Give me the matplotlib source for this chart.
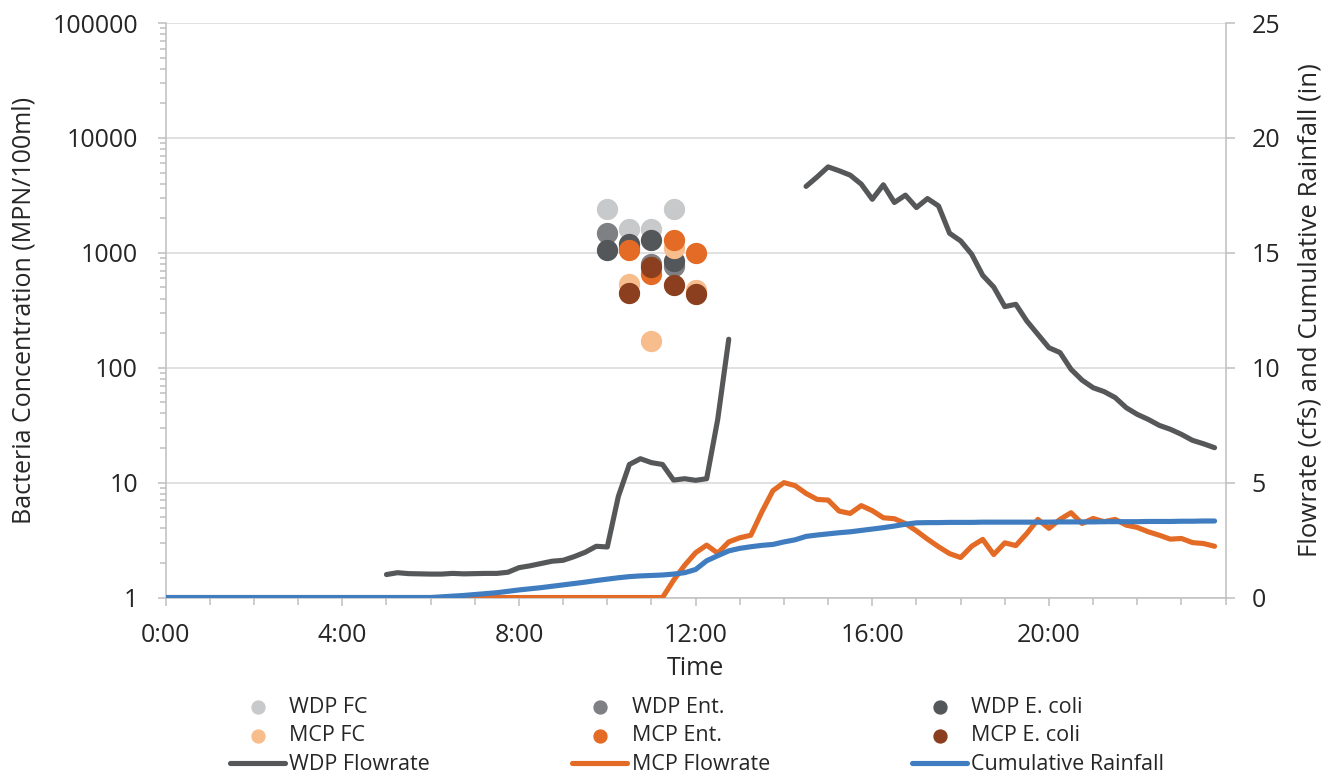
import numpy as np
import matplotlib
matplotlib.use('Agg')
import matplotlib.pyplot as plt
from matplotlib.ticker import FixedLocator, LogLocator, NullFormatter, FuncFormatter, MultipleLocator

plt.rcParams['font.family'] = 'Open Sans'

nan = np.nan

# flow / rain readings every 15 minutes, time in hours from midnight
hours = np.arange(0, 24, 0.25)

# WDP flowrate (cfs): 5:00-12:45, then gap, 14:30-23:45
wdp_flow_am = [1.00, 1.08, 1.04, 1.03, 1.02, 1.02, 1.05, 1.03,
               1.04, 1.05, 1.05, 1.10, 1.30, 1.38, 1.48, 1.58,
               1.62, 1.78, 1.97, 2.23, 2.20, 4.40, 5.79, 6.04,
               5.87, 5.79, 5.11, 5.17, 5.10, 5.17, 7.75, 11.24]
wdp_flow_pm = [17.89, 18.30, 18.74, 18.57, 18.38, 17.99, 17.33, 17.96,
               17.19, 17.51, 16.97, 17.36, 17.04, 15.85, 15.52, 14.94,
               14.02, 13.51, 12.66, 12.76, 12.03, 11.45, 10.87, 10.66,
               9.93, 9.46, 9.13, 8.96, 8.70, 8.26, 7.97, 7.75,
               7.49, 7.32, 7.10, 6.84, 6.69, 6.52]

# MCP flowrate (cfs), 0:00-23:45
mcp_flow = [0, 0, 0, 0, 0, 0, 0, 0, 0, 0, 0, 0,
            0, 0, 0, 0, 0, 0, 0, 0, 0, 0, 0, 0,
            0, 0, 0, 0, 0, 0, 0, 0, 0, 0, 0, 0,
            0, 0, 0, 0, 0, 0, 0, 0, 0, 0, 0.75, 1.40,
            1.95, 2.28, 1.93, 2.42, 2.60, 2.71, 3.73, 4.65,
            5.00, 4.87, 4.53, 4.27, 4.24, 3.76, 3.66, 4.00,
            3.78, 3.47, 3.43, 3.22, 2.90, 2.54, 2.21, 1.91,
            1.74, 2.23, 2.53, 1.87, 2.38, 2.26, 2.79, 3.40,
            3.01, 3.40, 3.69, 3.22, 3.44, 3.30, 3.40, 3.15,
            3.05, 2.86, 2.71, 2.54, 2.57, 2.39, 2.35, 2.23]

# cumulative rainfall (in), 0:00-23:45
rain = [0, 0, 0, 0, 0, 0, 0, 0, 0, 0, 0, 0,
        0, 0, 0, 0, 0, 0, 0, 0, 0, 0, 0, 0,
        0.00, 0.03, 0.06, 0.09, 0.13, 0.17, 0.21, 0.27,
        0.33, 0.38, 0.43, 0.49, 0.55, 0.61, 0.67, 0.74,
        0.80, 0.86, 0.91, 0.94, 0.96, 0.98, 1.02, 1.08,
        1.22, 1.60, 1.82, 2.03, 2.14, 2.21, 2.27, 2.31,
        2.42, 2.51, 2.66, 2.72, 2.77, 2.82, 2.86, 2.92,
        2.98, 3.04, 3.11, 3.19, 3.25, 3.26, 3.26, 3.27,
        3.27, 3.27, 3.28, 3.28, 3.28, 3.28, 3.28, 3.28,
        3.28, 3.29, 3.29, 3.29, 3.29, 3.30, 3.30, 3.30,
        3.30, 3.31, 3.31, 3.31, 3.32, 3.32, 3.33, 3.33]

# grab samples (MPN/100ml)
wdp_times = [10.0, 10.5, 11.0, 11.5]
wdp_fc = [2400, 1600, 1600, 2400]
wdp_ent = [1500, 1100, 800, 770]
wdp_ecoli = [1050, 1200, 1300, 850]

mcp_times = [10.5, 11.0, 11.5, 12.0]
mcp_fc = [540, 170, 1100, 470]
mcp_ent = [1050, 650, 1300, 1000]
mcp_ecoli = [450, 760, 530, 440]

fig = plt.figure(figsize=(13.38, 7.75), dpi=100)
ax = fig.add_axes([0.1238, 0.229, 0.7922, 0.7413])
ax2 = ax.twinx()

spine_c = '#BFBFBF'
txt_c = '#262626'
ms = 205

s1 = ax.scatter(wdp_times, wdp_fc, s=ms, color='#C8C9CB', label='WDP FC', zorder=3)
s2 = ax.scatter(wdp_times, wdp_ent, s=ms, color='#7F8083', label='WDP Ent.', zorder=3)
s3 = ax.scatter(wdp_times, wdp_ecoli, s=ms, color='#54575A', label='WDP E. coli', zorder=3)
s4 = ax.scatter(mcp_times, mcp_fc, s=ms, color='#F8BD8C', label='MCP FC', zorder=3)
s5 = ax.scatter(mcp_times, mcp_ent, s=ms, color='#E46B25', label='MCP Ent.', zorder=3)
s6 = ax.scatter(mcp_times, mcp_ecoli, s=ms, color='#8B3F1E', label='MCP E. coli', zorder=3)

lw = 3.7
l1, = ax2.plot(hours[20:52], wdp_flow_am, color='#555759', lw=lw, solid_capstyle='round', label='WDP Flowrate')
ax2.plot(hours[58:], wdp_flow_pm, color='#555759', lw=lw, solid_capstyle='round')
l2, = ax2.plot(hours, mcp_flow, color='#E46B25', lw=lw, solid_capstyle='round', label='MCP Flowrate')
l3, = ax2.plot(hours, rain, color='#3F7CC0', lw=lw, solid_capstyle='round', label='Cumulative Rainfall')

# left axis: log bacteria
ax.set_yscale('log')
ax.set_ylim(1, 100000)
ax.yaxis.set_major_locator(FixedLocator([1, 10, 100, 1000, 10000, 100000]))
ax.yaxis.set_major_formatter(FuncFormatter(lambda v, p: f'{int(round(v))}'))
ax.yaxis.set_minor_locator(LogLocator(base=10, subs=np.arange(2, 10)))
ax.yaxis.set_minor_formatter(NullFormatter())
ax.grid(axis='y', which='major', color='#D9D9D9', lw=1.1)
ax.set_axisbelow(True)

ax.set_xlim(0, 24)
ax.xaxis.set_major_locator(FixedLocator([0, 4, 8, 12, 16, 20]))
ax.xaxis.set_major_formatter(FuncFormatter(lambda h, p: f'{int(h)}:00'))
ax.xaxis.set_minor_locator(MultipleLocator(1))

ax2.set_ylim(0, 25)
ax2.yaxis.set_major_locator(MultipleLocator(5))

for a in (ax, ax2):
    for side in a.spines:
        a.spines[side].set_color(spine_c)
        a.spines[side].set_linewidth(1.1)
    a.spines['top'].set_visible(False)
ax.spines['right'].set_visible(False)
ax2.spines['left'].set_visible(False)
ax2.spines['bottom'].set_visible(False)

ax.tick_params(axis='y', which='major', length=6, width=1.1, color=spine_c,
               labelsize=18, labelcolor=txt_c, pad=14)
ax.tick_params(axis='y', which='minor', length=4, width=1.1, color=spine_c)
ax.tick_params(axis='x', which='major', length=6, width=1.1, color=spine_c,
               labelsize=18, labelcolor=txt_c, pad=12)
ax.tick_params(axis='x', which='minor', length=5, width=1.1, color=spine_c)
ax2.tick_params(axis='y', length=6.5, width=1.1, color=spine_c,
                labelsize=18, labelcolor=txt_c, pad=12)

ax.set_xlabel('Time', fontsize=18, color=txt_c, labelpad=6)
ax.set_ylabel('Bacteria Concentration (MPN/100ml)', fontsize=18, color=txt_c, labelpad=11)
ax2.set_ylabel('Flowrate (cfs) and Cumulative Rainfall (in)', fontsize=18.5, color=txt_c, labelpad=13)

handles = [s1, s4, l1, s2, s5, l2, s3, s6, l3]
fig.legend(handles=handles, labels=[h.get_label() for h in handles],
           ncol=3, loc='upper left', bbox_to_anchor=(0.1719, 0.101),
           frameon=False, fontsize=15.5, markerscale=0.65,
           handlelength=2.56, handletextpad=0.2, columnspacing=6.6,
           labelspacing=0.36, borderpad=0, borderaxespad=0,
           labelcolor=txt_c)

fig.savefig('out.png', dpi=100)
